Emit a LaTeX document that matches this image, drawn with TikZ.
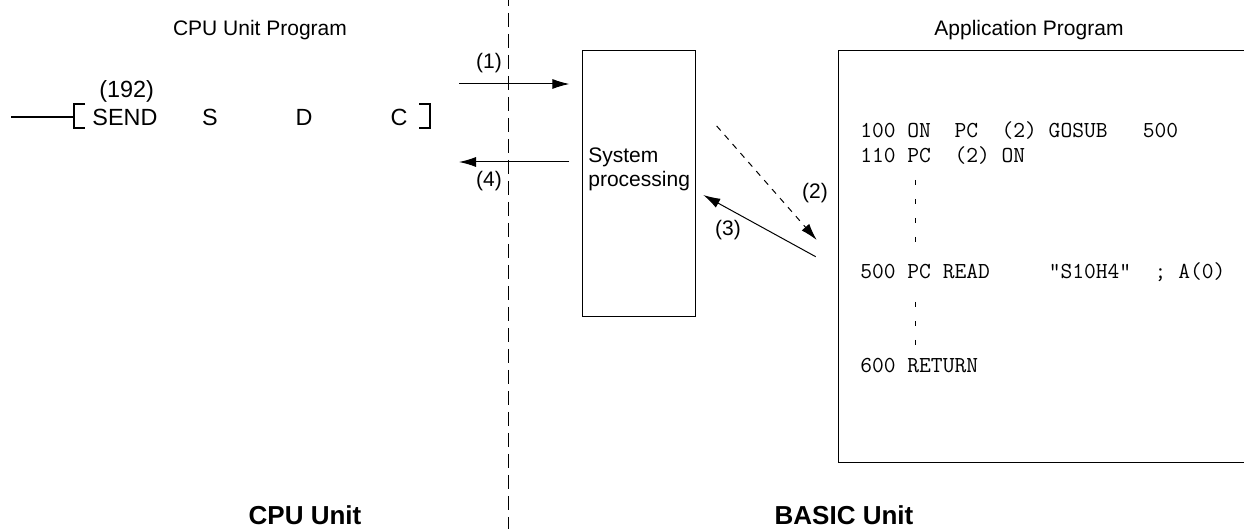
\documentclass[tikz,border=0pt]{standalone}
\usepackage{fontspec}
\setmainfont{Liberation Sans}
\usetikzlibrary{calc,arrows.meta,positioning}

\tikzset{
  lbl/.style={font=\fontsize{10.5}{12}\selectfont,inner sep=0pt},
  ladder/.style={font=\fontsize{11.7}{13}\selectfont,inner sep=0pt},
  codeline/.style={font=\fontsize{11.43}{12}\ttfamily,anchor=base west,inner sep=0pt},
  unitname/.style={font=\fontsize{13}{15}\selectfont\bfseries,anchor=base,inner sep=0pt},
  flow/.style={->,line width=0.5pt},
  skipline/.style={line width=0.5pt,dash pattern=on 2.5pt off 7pt},
}

\begin{document}
\begin{tikzpicture}[x=0.5pt,y=-0.5pt,>={Latex[length=8.5pt,width=5pt]}]
	\useasboundingbox (0,0) rectangle (1244,529);
	
	% divider between the two units
	\draw[line width=0.5pt,dash pattern=on 7pt off 3.5pt,dash phase=-6.5pt] (508,0)--(508,529);
	
	\node[lbl] (cpuprog) at (260,30) {CPU Unit Program};
	\node[lbl] (appprog) at (1029,30) {Application Program};
	
	% ladder instruction
	\coordinate (rail) at (11,117);
	\coordinate (brL) at (74,117);
	\coordinate (brR) at (430,117);
	\draw[line width=1pt] (rail)--(brL);
	\draw[line width=1pt] ($(brL)+(11,-13)$) -- ($(brL)+(0,-13)$) -- ($(brL)+(0,11)$) -- ($(brL)+(11,11)$);
	\draw[line width=1pt] ($(brR)+(-11,-13)$) -- ($(brR)+(0,-13)$) -- ($(brR)+(0,11)$) -- ($(brR)+(-11,11)$);
	\node[ladder] (fun) at (126.7,91) {(192)};
	\node[ladder,anchor=west] (send) at (92,117) {SEND};
	\node[ladder] (opS) at (210,117) {S};
	\node[ladder] (opD) at (304,117) {D};
	\node[ladder] (opC) at (399,117) {C};
	
	% system processing
	\node[draw,line width=0.5pt,minimum width=56.5pt,minimum height=133pt,inner sep=0pt] (sys) at (639.2,184) {};
	\node[lbl,align=left,anchor=west] (systxt) at (588,169) {System\\processing};
	
	% application program
	\draw[line width=0.5pt] (1244,51) -| (838,463) -- (1244,463);
	\node[codeline] (l100) at (860,138) {100 ON~~PC~~(2) GOSUB~~~500};
	\node[codeline] (l110) at (860,163) {110 PC~~(2) ON};
	\node[codeline] (l500) at (860,279) {500 PC READ~~~~~”S10H4”~~; A(0)};
	\node[codeline] (l600) at (860,373) {600 RETURN};
	\draw[skipline] (915.7,180)--(915.7,242);
	\draw[skipline] (915.7,302)--(915.7,354);
	
	% transfers
	\coordinate (a1) at (459,84);
	\coordinate (a4) at (459,162);
	\draw[flow,shorten >=6.4pt] (a1)--(a1 -| sys.west);
	\draw[flow,shorten <=6.4pt] (a4 -| sys.west)--(a4);
	\node[lbl] (n1) at (489,63) {(1)};
	\node[lbl] (n4) at (489,181) {(4)};
	
	\coordinate (p2s) at (716.7,126);
	\coordinate (p2e) at (816.7,240);
	\coordinate (p3s) at (815.7,256.7);
	\coordinate (p3e) at (703.3,195);
	\draw[flow,dashed] (p2s)--(p2e);
	\draw[flow] (p3s)--(p3e);
	\node[lbl] (n2) at (815,193) {(2)};
	\node[lbl] (n3) at (728,230) {(3)};
	
	\node[unitname] (cpuunit) at (305,524) {CPU Unit};
	\node[unitname] (basicunit) at (844,524) {BASIC Unit};
\end{tikzpicture}
\end{document}
